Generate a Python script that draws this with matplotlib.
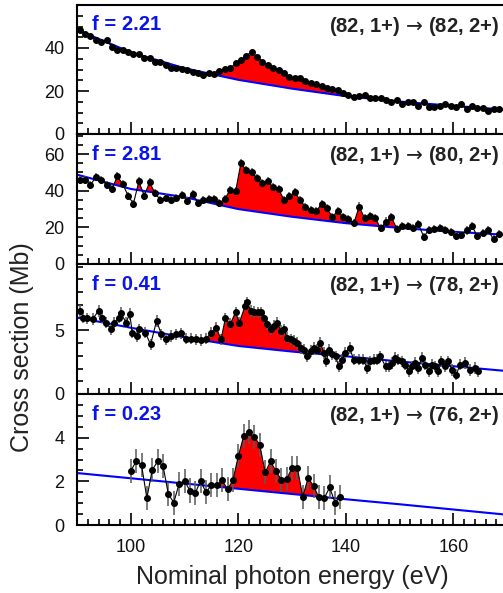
import matplotlib
matplotlib.use('Agg')
import matplotlib.pyplot as plt
import numpy as np

plt.rcParams['font.family'] = ['Liberation Sans', 'DejaVu Sans']
plt.rcParams['mathtext.fontset'] = 'dejavusans'

# ---- panel 1: (82,1+) -> (82,2+)
x1 = np.arange(90.5, 169, 1.0)
y1 = [48.4, 46.4, 45.7, 43.7, 42.9, 43.7, 40.6, 39.0, 39.0, 38.0,
      37.2, 37.2, 35.2, 35.2, 33.6, 33.6, 32.0, 30.5, 30.5, 30.2,
      29.8, 29.0, 28.5, 27.4, 28.2, 28.0, 29.3, 30.1, 30.5, 32.9,
      34.4, 36.4, 38.3, 36.0, 33.6, 32.1, 30.6, 29.8, 28.2, 26.7,
      25.9, 25.9, 24.8, 23.9, 23.3, 22.3, 21.3, 20.8, 20.5, 18.9,
      18.1, 17.3, 17.8, 18.1, 16.6, 16.9, 16.9, 15.8, 15.0, 15.8,
      13.8, 15.0, 14.7, 13.0, 14.7, 12.7, 12.7, 13.2, 13.8, 13.0,
      12.4, 13.8, 11.5, 13.0, 12.0, 12.0, 10.8, 11.5, 11.6]
e1 = 0.5

# ---- panel 2: (82,1+) -> (80,2+)
x2 = np.arange(90.5, 169, 1.0)
y2 = [46.0, 46.0, 43.3, 47.3, 46.0, 43.3, 40.9, 47.8, 43.8, 37.3,
      32.9, 45.1, 37.3, 44.6, 38.7, 35.1, 36.3, 34.7, 36.3, 37.8,
      34.5, 38.4, 33.2, 34.7, 35.6, 35.6, 33.2, 35.6, 40.5, 39.6,
      55.2, 51.1, 50.2, 46.9, 44.2, 45.1, 42.0, 40.9, 35.1, 36.9,
      39.1, 35.1, 31.1, 29.6, 28.7, 32.9, 30.5, 25.6, 29.2, 25.6,
      24.7, 22.3, 31.4, 25.0, 26.3, 25.0, 19.5, 23.2, 25.6, 19.2,
      20.5, 20.8, 19.5, 21.7, 15.0, 18.6, 19.2, 19.9, 18.6, 17.7,
      15.3, 15.9, 18.3, 20.5, 15.3, 16.8, 18.3, 13.5, 16.4]
e2 = 2.2

# ---- panel 3: (82,1+) -> (78,2+)
x3 = [90.5, 91.2, 91.9, 92.9, 94.0, 94.6, 95.4, 96.4, 96.9, 97.8,
      98.2, 99.1, 99.8, 100.3, 101.1, 101.5, 102.7, 103.7, 104.8, 105.7,
      106.6, 107.5, 108.5, 109.4, 110.3, 111.2, 112.2, 113.1, 114.0, 115.0,
      115.9, 116.8, 117.6, 118.5, 119.5,
      120.2, 121.3, 121.7, 122.3, 123.0, 123.6, 124.2, 124.8, 125.4, 126.1,
      126.7, 127.3, 127.9, 128.5, 129.1, 129.8, 130.4, 131.0, 131.6, 132.2,
      132.8, 133.5, 134.1, 134.7, 135.3, 135.9, 136.4, 136.9, 137.5, 138.1,
      138.7, 139.3, 139.9, 140.7, 141.5, 142.4, 143.2, 144.0, 144.6, 145.2,
      145.8, 146.4, 147.4, 148.0, 148.6, 149.2, 149.8, 150.4, 151.1, 151.7,
      152.3, 152.9, 153.5, 154.1, 154.8, 155.4, 156.0, 156.6, 157.2, 157.8,
      158.5, 159.1, 159.7, 160.6, 161.2, 162.2, 163.1, 164.0, 164.6]
y3 = [6.53, 6.0, 5.93, 5.87, 6.53, 6.0, 5.6, 5.08, 5.6, 6.0,
      6.35, 5.6, 6.27, 4.81, 4.55, 5.08, 4.81, 3.89, 5.74, 4.68,
      4.29, 4.55, 4.68, 4.76, 4.34, 4.34, 4.29, 4.23, 4.34, 4.81,
      5.21, 4.29, 5.93, 5.48, 6.4,
      5.61, 6.93, 7.2, 6.53, 6.45, 6.4, 6.4, 6.0, 5.48, 5.08,
      5.34, 5.61, 4.95, 5.08, 4.42, 4.29, 4.15, 4.02, 3.62, 3.49,
      2.96, 3.36, 3.62, 3.49, 4.02, 3.23, 2.57, 3.49, 3.1, 2.96,
      2.17, 2.7, 3.23, 3.62, 2.7, 2.7, 2.7, 2.04, 2.57, 2.7,
      2.7, 2.96, 2.17, 2.17, 2.43, 2.83, 2.7, 2.57, 2.3, 1.77,
      2.17, 2.43, 2.04, 2.83, 2.3, 1.77, 2.3, 2.17, 1.77, 2.57,
      2.17, 2.57, 1.9, 1.51, 2.3, 2.43, 1.9, 2.04, 1.77]
e3 = 0.45

# ---- panel 4: (82,1+) -> (76,2+)
x4 = np.arange(100, 140, 1.0)
y4 = [2.48, 2.91, 2.76, 1.23, 2.53, 2.91, 2.71, 1.41, 1.03, 1.89,
      2.02, 1.58, 1.46, 2.02, 1.49, 1.84, 1.81, 2.04, 1.64, 2.04,
      3.14, 4.06, 4.24, 4.03, 3.68, 2.41, 2.91, 2.48, 2.07, 2.1,
      2.61, 2.61, 1.30, 2.15, 1.79, 1.27, 1.23, 1.72, 1.03, 1.30]
e4 = 0.55

# fitted backgrounds (blue lines), read at a few energies
bg_x = [90, 100, 110, 120, 130, 140, 150, 160, 170]
bg1 = [48.5, 38.0, 30.6, 25.2, 21.1, 17.6, 15.1, 13.1, 11.3]
bg2 = [48.8, 41.0, 36.5, 30.0, 25.8, 22.3, 19.7, 17.6, 15.9]
bg3 = [6.0, 5.2, 4.45, 3.77, 3.33, 2.96, 2.55, 2.18, 1.8]
bg4 = [2.38, 2.14, 1.90, 1.66, 1.42, 1.18, 0.95, 0.71, 0.47]

f_labels = ['f = 2.21', 'f = 2.81', 'f = 0.41', 'f = 0.23']
arrow = r' $\!\rightarrow\!$ '
channels = ['(82, 1+)' + arrow + '(82, 2+)', '(82, 1+)' + arrow + '(80, 2+)',
            '(82, 1+)' + arrow + '(78, 2+)', '(82, 1+)' + arrow + '(76, 2+)']
fill_ranges = [(115, 144), (95, 149), (114, 136), (116, 135)]
ylims = [60, 71, 10.2, 6.0]
ymajor = [[0, 20, 40], [0, 20, 40, 60], [0, 5], [0, 2, 4]]
yminor = [5, 5, 1, 0.5]

panels = [(x1, y1, e1, bg1), (x2, y2, e2, bg2), (x3, y3, e3, bg3), (x4, y4, e4, bg4)]

fig = plt.figure(figsize=(5.03, 5.93), dpi=100)
W, H = 503, 593
tops = [5, 134, 264, 394]
bots = [134, 264, 394, 525]
left_px, right_px = 77, 507

for i, (x, y, e, bg) in enumerate(panels):
    ax = fig.add_axes([left_px / W, 1 - bots[i] / H,
                       (right_px - left_px) / W, (bots[i] - tops[i]) / H])
    x = np.asarray(x, float)
    y = np.asarray(y, float)
    base = np.interp(x, bg_x, bg)
    lo, hi = fill_ranges[i]
    ax.fill_between(x, base, y, where=(y > base) & (x >= lo) & (x <= hi),
                    interpolate=True, color='#ff0000', lw=0, zorder=1)
    ax.plot(bg_x, bg, color='#0000ff', lw=1.5, zorder=2)
    ax.errorbar(x, y, yerr=e, fmt='none', ecolor='0.35', elinewidth=1.1, zorder=3)
    ax.plot(x, y, '-', color='black', lw=0.8, zorder=4)
    ax.plot(x, y, 'o', color='black', ms=4, zorder=5)

    ax.set_xlim(90, 170)
    ax.set_ylim(0, ylims[i])
    ax.set_xticks([100, 120, 140, 160])
    ax.set_xticks(np.arange(90, 171, 2), minor=True)
    ax.set_yticks(ymajor[i])
    ax.set_yticks(np.arange(0, ylims[i], yminor[i]), minor=True)
    ax.tick_params(which='both', direction='in', width=1.2, labelsize=13,
                   labelcolor='#111111')
    ax.tick_params(which='major', length=8.5)
    ax.tick_params(which='minor', length=4.3)
    ax.tick_params(axis='y', pad=9)
    ax.tick_params(axis='x', pad=10)
    if i < 3:
        ax.tick_params(axis='x', labelbottom=False)
    for s in ax.spines.values():
        s.set_linewidth(1.5)

    ax.text(0.035, 0.845, f_labels[i], transform=ax.transAxes, color='#0a14e6',
            fontsize=14.5, fontweight='bold', ha='left', va='center')
    ax.text(168.6, ylims[i] * 0.835, channels[i], color='#222222',
            fontsize=14.5, fontweight='bold', ha='right', va='center')

fig.text(22 / W, 1 - 347 / H, 'Cross section (Mb)', rotation=90,
         fontsize=18, ha='center', va='center', color='#222222')
fig.text(292 / W, 1 - 577 / H, 'Nominal photon energy (eV)',
         fontsize=18, ha='center', va='center', color='#222222')

fig.savefig('out.png', dpi=100)
